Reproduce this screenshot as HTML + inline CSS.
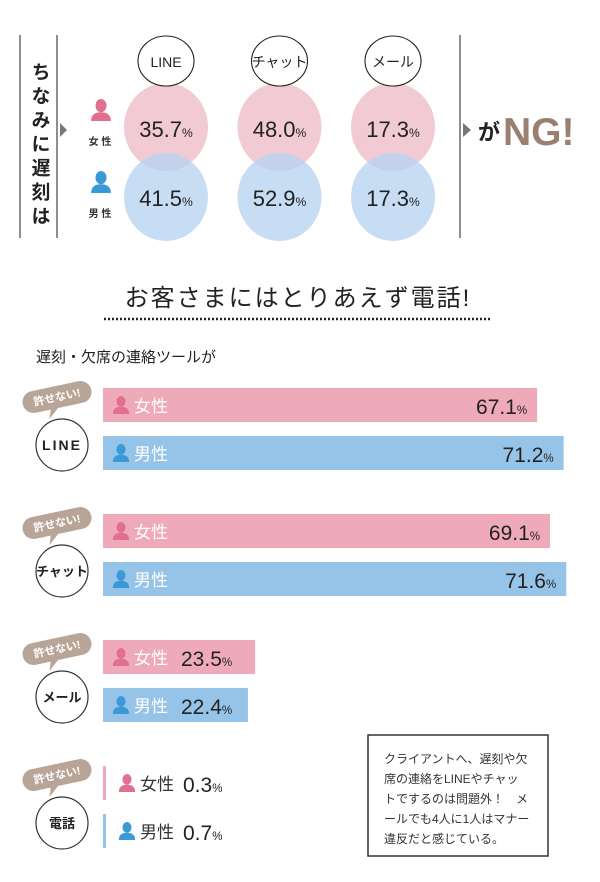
<!DOCTYPE html>
<html><head><meta charset="utf-8">
<style>
body{margin:0;background:#fff;width:600px;height:877px;overflow:hidden;font-family:"Liberation Sans","Noto Sans CJK JP",sans-serif;}
svg text{font-family:"Liberation Sans","Noto Sans CJK JP",sans-serif;}
</style></head>
<body>
<svg id="chart" width="600" height="877" viewBox="0 0 600 877" xmlns="http://www.w3.org/2000/svg">
<defs>
<symbol id="person" viewBox="0 0 20 20"><ellipse cx="10" cy="6" rx="5" ry="6"/><path d="M1 20 Q1 12 10 12 Q19 12 19 20Z"/></symbol>
</defs>
<g id="top">
<line x1="20" y1="35" x2="20" y2="238" stroke="#444" stroke-width="1.2"/>
<line x1="57" y1="35" x2="57" y2="238" stroke="#444" stroke-width="1.2"/>
<line x1="460" y1="35" x2="460" y2="238" stroke="#444" stroke-width="1.2"/>
<text x="39" y="62" font-size="19" font-weight="bold" fill="#222" writing-mode="tb" letter-spacing="5">ちなみに遅刻は</text>
<path d="M60 123 L67 130 L60 137Z" fill="#777"/>
<path d="M463 123 L471 130 L463 137Z" fill="#777"/>
<text x="478" y="140" font-size="22" font-weight="bold" fill="#222">が</text>
<text x="503" y="145" font-size="39" font-weight="bold" fill="#9b8072">NG!</text>
<use href="#person" x="90" y="98" width="22" height="24" fill="#e0708e"/>
<text x="100" y="145" font-size="10" font-weight="bold" text-anchor="middle" fill="#333">女 性</text>
<use href="#person" x="90" y="170" width="22" height="24" fill="#3a9ad8"/>
<text x="100" y="217" font-size="10" font-weight="bold" text-anchor="middle" fill="#333">男 性</text>
</g>
<g id="topcircles"></g>
<text x="298" y="306" font-size="24" text-anchor="middle" fill="#222" letter-spacing="2">お客さまにはとりあえず電話!</text>
<line x1="104" y1="319" x2="492" y2="319" stroke="#222" stroke-width="2.5" stroke-dasharray="2,2"/>
<text x="36" y="362" font-size="15" fill="#222">遅刻・欠席の連絡ツールが</text>
<g id="bars"></g>
<g>
<rect x="368" y="735" width="180" height="121" fill="#fff" stroke="#333" stroke-width="1.5"/>
<text x="384" y="763" font-size="12" fill="#333">クライアントへ、遅刻や欠</text>
<text x="384" y="783" font-size="12" fill="#333">席の連絡をLINEやチャッ</text>
<text x="384" y="803" font-size="12" fill="#333">トでするのは問題外！　メ</text>
<text x="384" y="823" font-size="12" fill="#333">ールでも4人に1人はマナー</text>
<text x="384" y="843" font-size="12" fill="#333">違反だと感じている。</text>
</g>
</svg>
<script>
const NS="http://www.w3.org/2000/svg";
// top summary data
const topTools=["LINE","チャット","メール"];
const topFemale=[35.7,48.0,17.3];
const topMale=[41.5,52.9,17.3];
// bar chart data
const tools=["LINE","チャット","メール","電話"];
const femaleVals=[67.1,69.1,23.5,0.3];
const maleVals=[71.2,71.6,22.4,0.7];

function el(tag,attrs,parent,txt){const e=document.createElementNS(NS,tag);for(const k in attrs)e.setAttribute(k,attrs[k]);if(txt!==undefined)e.textContent=txt;parent.appendChild(e);return e;}
function pctText(parent,x,y,v,size,anchor,fill){
  const t=el("text",{x:x,y:y,"font-size":size,"text-anchor":anchor,fill:fill},parent);
  el("tspan",{},t,v.toFixed(1));el("tspan",{"font-size":size*0.55},t,"%");return t;}

const tc=document.getElementById("topcircles");
const colX=i=>166+i*113.5;
topTools.forEach((name,i)=>{
  const cx=colX(i);
  const g=el("g",{},tc);
  
  
  const fc=el("ellipse",{cx:cx,cy:127,rx:42,ry:44,fill:"#f0c4cf",opacity:"0.9"},g);
  
  
  const mc=el("ellipse",{cx:cx,cy:197,rx:42,ry:44,fill:"#b7d3ef",opacity:"0.78"},g);
  
  
  el("ellipse",{cx:cx,cy:61,rx:28,ry:25,fill:"#fff",stroke:"#222","stroke-width":1.1},g);
  el("text",{x:cx,y:67,"font-size":14,"text-anchor":"middle",fill:"#222"},g,name);
  pctText(g,cx,137,topFemale[i],22,"middle","#222");
  pctText(g,cx,206,topMale[i],22,"middle","#222");
});

const bars=document.getElementById("bars");
const x0=103, pxPer=6.47;
const xs=v=>x0+v*pxPer;
const groupY=i=>388+i*126;
tools.forEach((name,i)=>{
  const y=groupY(i);
  const g=el("g",{},bars);
  
  
  const bd=el("g",{transform:`translate(57 ${y+9}) rotate(-12)`},g);
  
  
  el("rect",{x:-35,y:-11,width:70,height:22,rx:11,fill:"#b9a597"},bd);
  el("path",{d:"M-8 9 L-12 20 L0 10Z",fill:"#b9a597"},bd);
  el("text",{x:0,y:4,"font-size":11,"text-anchor":"middle",fill:"#fff","font-weight":"bold"},bd,"許せない!");
  const cy=y+57;
  const c=el("circle",{cx:62,cy:cy,r:26,fill:"#fff",stroke:"#333","stroke-width":1.2},g);
  
  
  el("text",{x:62,y:cy+5,"font-size":name==="LINE"?14:13,"text-anchor":"middle",fill:"#222","font-weight":"bold","letter-spacing":name==="LINE"?2:0},g,name);
  [[femaleVals[i],"#eeaab8","#e0708e","女性",0],[maleVals[i],"#96c3e8","#3a9ad8","男性",48]].forEach(([v,col,icol,lab,dy])=>{
    const by=y+dy, w=xs(v)-x0;
    const tiny=w<20;
    const r=el("rect",{x:x0,y:by,width:tiny?3:w,height:34,fill:col},g);
    
    
    const ix=tiny?118:112;
    el("use",{href:"#person",x:ix,y:by+7,width:18,height:20,fill:icol},g);
    el("text",{x:ix+22,y:by+24,"font-size":17,fill:tiny?"#333":"#fff"},g,lab);
    if(w>200) pctText(g,x0+w-10,by+26,v,21,"end","#222");
    else pctText(g,tiny?183:181,by+26,v,21,"start","#222");
  });
});
</script>
</body></html>
